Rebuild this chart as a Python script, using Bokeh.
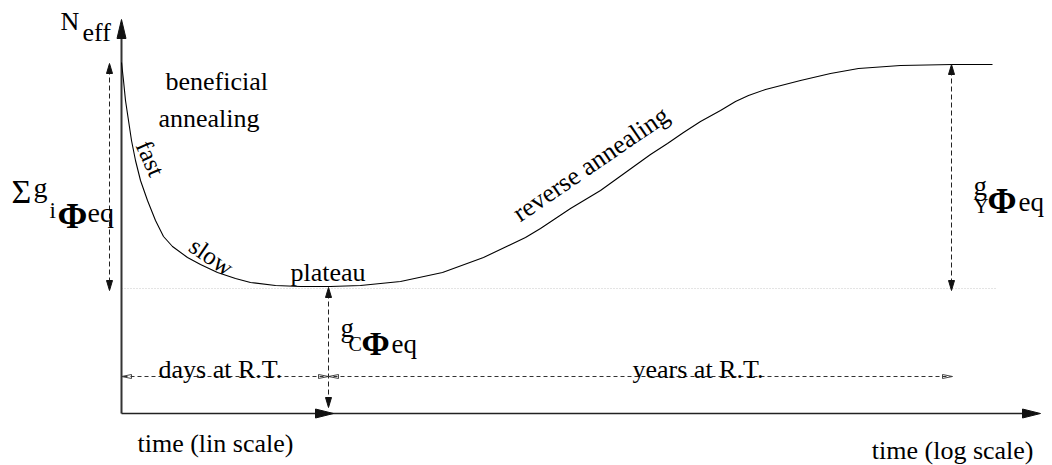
from bokeh.plotting import figure
from bokeh.models import Range1d
from bokeh.core.properties import value
from bokeh.embed import file_html
from bokeh.resources import INLINE

# ---- schematic data (in picture coordinates: x right, y down) ----
curve_x = [121, 123, 125, 128, 131, 135, 140, 147, 155, 163, 172, 187, 200, 217, 235, 250,
           275, 300, 330, 360, 400, 442, 483, 525, 540, 570, 600, 625, 650, 667, 683, 700,
           720, 735, 748, 765, 800, 830, 858, 900, 952, 992]
curve_y = [62, 80, 100, 120, 140, 160, 180, 200, 220, 236, 246, 257, 264, 272, 278, 282,
           285, 286, 286, 285, 281, 272, 257, 237, 228, 208, 190, 172, 154, 143, 132, 121,
           110, 101, 95, 89, 80, 73, 68, 65, 64, 64]

origin_x = 121          # time axis start
axis_y = 413            # time axis level
axis_top = 19           # N_eff arrow tip
lin_end = 333           # end of linear-time part
log_end = 1040          # end of log-time part
level_initial = 63      # N_eff right after irradiation
level_plateau = 288     # stable damage level
level_final = 64        # saturated reverse annealing
sigma_x = 109
gc_x = 328
gy_x = 951
rt_y = 376
rt_end = 952
dotted_end = 995

FONT = value("'Liberation Serif', 'Times New Roman', serif")

p = figure(width=1052, height=465, x_range=Range1d(0, 1052), y_range=Range1d(465, 0),
           output_backend="svg", toolbar_location=None, min_border=0,
           x_axis_location=None, y_axis_location=None)
p.grid.visible = False
p.outline_line_color = None
p.background_fill_color = "white"
p.border_fill_color = "white"


def head(tip, d, length, half, filled=True, color="#111", lw=1.0):
    tx, ty = tip
    dx, dy = d
    bx, by = tx - dx * length, ty - dy * length
    px, py = -dy, dx
    xs = [tx, bx + px * half, bx - px * half]
    ys = [ty, by + py * half, by - py * half]
    p.patch(xs, ys, fill_color=color if filled else "white", fill_alpha=1.0 if filled else 0.0,
            line_color=color, line_width=lw)


def txt(x, y, s, size, bold=False, angle=0.0, align="left", baseline="alphabetic"):
    p.text(x=[x], y=[y], text=[s], text_font=FONT, text_font_size=value(f"{size}px"),
           text_font_style="bold" if bold else "normal", angle=angle,
           text_align=align, text_baseline=baseline, text_color="black")


# dotted plateau level
p.line([origin_x, dotted_end], [level_plateau, level_plateau], line_color="#c8c8c8",
       line_width=1, line_dash="1 2")

# axes
p.line([origin_x, origin_x], [axis_y, axis_top + 15], line_color="#333", line_width=2)
head((origin_x, axis_top), (0, -1), 19, 4.5, color="#111")
p.line([origin_x, log_end - 15], [axis_y, axis_y], line_color="#222", line_width=1.6)
head((lin_end, axis_y), (1, 0), 18, 4.5, color="#111")
head((log_end, axis_y), (1, 0), 18, 4.5, color="#111")

# curve
p.line(curve_x, curve_y, line_color="black", line_width=1.1, line_join="round")

# dashed vertical arrows
for xv, y0, y1 in [(sigma_x, level_initial, level_plateau + 2),
                   (gc_x, level_plateau - 1, axis_y - 6),
                   (gy_x, level_final, level_plateau + 2)]:
    p.line([xv, xv], [y0 + 6, y1 - 6], line_color="#222", line_width=1, line_dash="5 3")
    head((xv, y0), (0, -1), 10, 3, color="#111")
    head((xv, y1), (0, 1), 10, 3, color="#111")

# dashed horizontal time arrows
p.line([origin_x + 2, rt_end - 2], [rt_y, rt_y], line_color="#333", line_width=1, line_dash="4 3")
head((origin_x, rt_y), (-1, 0), 10, 2, filled=False, color="#333", lw=0.9)
head((gc_x, rt_y), (1, 0), 10, 2, filled=False, color="#333", lw=0.9)
head((gc_x, rt_y), (-1, 0), 10, 2, filled=False, color="#333", lw=0.9)
head((rt_end, rt_y), (1, 0), 10, 2, filled=False, color="#333", lw=0.9)

# labels
txt(60, 21, "N", 26)
txt(82, 32, "eff", 26)
txt(165, 81, "beneficial", 26)
txt(158, 118, "annealing", 26)
txt(150, 158, "fast", 25, angle=-1.15, align="center", baseline="middle")
txt(211, 256, "slow", 25, angle=-0.6, align="center", baseline="middle")
txt(290, 272, "plateau", 26)
txt(515, 215, "reverse annealing", 26, angle=0.6)

txt(11, 191, "Σ", 34)
txt(33, 187, "g", 28)
txt(49, 210, "i", 23)
txt(57, 215, "Φ", 36, bold=True)
txt(87, 212, "eq", 28)

txt(340, 327, "g", 27)
txt(348, 343, "C", 20)
txt(361, 343, "Φ", 34, bold=True)
txt(391, 343, "eq", 27)

txt(973, 185, "g", 27)
txt(973, 205, "Y", 21)
txt(987, 201, "Φ", 35, bold=True)
txt(1018, 201, "eq", 27)

txt(158, 369, "days at R.T.", 26)
txt(632, 369, "years at R.T.", 26)
txt(137, 443, "time (lin scale)", 26)
txt(1033, 450, "time (log scale)", 26, align="right")

open("out.html", "w").write(file_html(p, INLINE))
